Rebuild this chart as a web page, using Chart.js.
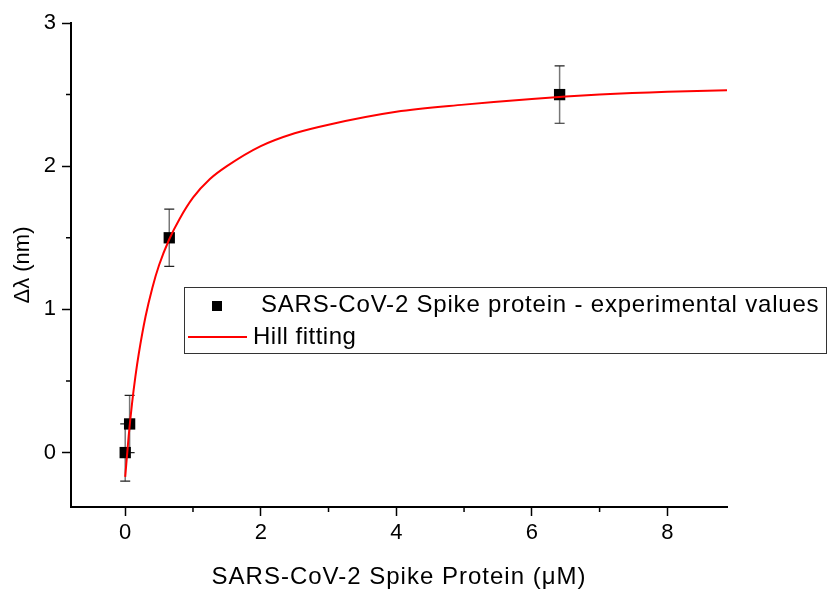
<!DOCTYPE html>
<html lang="en">
<head>
    <meta charset="UTF-8">
    <title>Hill fitting chart</title>
    <script src="https://cdn.jsdelivr.net/npm/chart.js"></script>
    <style>
        html, body { margin: 0; padding: 0; background: #fff; }
    </style>
</head>
<body>
    <canvas id="hillChart" width="834" height="595"></canvas>
<script>
    // experimental points (concentration in uM, shift in nm, error)
    const expX = [0, 0.065, 0.65, 6.41];
    const expY = [0, 0.2, 1.5, 2.5];
    const expErr = [0.2, 0.2, 0.2, 0.2];

    // Hill fitting curve
    const fitX = [0, 0.05, 0.1, 0.15, 0.2, 0.3, 0.4, 0.5, 0.65, 0.8, 1.0, 1.25, 1.5, 2, 2.5, 3, 4, 5, 6, 7, 8, 8.88];
    const fitY = [-0.17, 0.11, 0.34, 0.53, 0.69, 0.95, 1.15, 1.31, 1.49, 1.63, 1.78, 1.91, 2.0, 2.14, 2.23, 2.29, 2.38, 2.43, 2.47, 2.5, 2.52, 2.53];

    // axis ticks
    const xTicks = [0, 2, 4, 6, 8];
    const xMinor = [1, 3, 5, 7];
    const yTicks = [0, 1, 2, 3];
    const yMinor = [0.5, 1.5, 2.5];

    const legendLabels = ['SARS-CoV-2 Spike protein - experimental values', 'Hill fitting'];
    const xTitle = 'SARS-CoV-2 Spike Protein (μM)';
    const yTitle = 'Δλ (nm)';

    const fontFamily = '"Liberation Sans", Arial, sans-serif';

    // error bars under the points
    const errorBars = {
        id: 'errorBars',
        beforeDatasetsDraw(chart) {
            const ctx = chart.ctx;
            const xs = chart.scales.x, ys = chart.scales.y;
            ctx.save();
            expX.forEach((x, i) => {
                const px = xs.getPixelForValue(x);
                const top = ys.getPixelForValue(expY[i] + expErr[i]);
                const bot = ys.getPixelForValue(expY[i] - expErr[i]);
                ctx.strokeStyle = '#777';
                ctx.lineWidth = 1.5;
                ctx.beginPath();
                ctx.moveTo(px, top);
                ctx.lineTo(px, bot);
                ctx.stroke();
                ctx.strokeStyle = '#222';
                ctx.lineWidth = 1.2;
                ctx.beginPath();
                ctx.moveTo(px - 5, top);
                ctx.lineTo(px + 5, top);
                ctx.moveTo(px - 5, bot);
                ctx.lineTo(px + 5, bot);
                ctx.stroke();
            });
            ctx.restore();
        }
    };

    // short minor ticks, x title and boxed legend inside the plot
    const extras = {
        id: 'extras',
        afterDraw(chart) {
            const ctx = chart.ctx;
            const xs = chart.scales.x, ys = chart.scales.y;
            const area = chart.chartArea;
            ctx.save();
            ctx.strokeStyle = '#000';
            ctx.lineWidth = 1.5;
            ctx.beginPath();
            xMinor.forEach(v => {
                const px = xs.getPixelForValue(v);
                ctx.moveTo(px, area.bottom);
                ctx.lineTo(px, area.bottom + 5);
            });
            yMinor.forEach(v => {
                const py = ys.getPixelForValue(v);
                ctx.moveTo(area.left, py);
                ctx.lineTo(area.left - 5, py);
            });
            ctx.stroke();

            // x axis title (a little letter spacing like the original)
            ctx.fillStyle = '#000';
            ctx.letterSpacing = '1px';
            ctx.font = '24px ' + fontFamily;
            ctx.textBaseline = 'middle';
            ctx.textAlign = 'center';
            ctx.fillText(xTitle, (area.left + area.right) / 2, 577);

            // legend box
            ctx.textAlign = 'left';
            ctx.strokeStyle = '#333';
            ctx.lineWidth = 1;
            ctx.fillStyle = '#fff';
            ctx.fillRect(184.5, 287.5, 642, 66);
            ctx.strokeRect(184.5, 287.5, 642, 66);
            ctx.fillStyle = '#000';
            ctx.fillRect(212, 301, 10, 10);
            ctx.strokeStyle = '#ff0000';
            ctx.lineWidth = 2;
            ctx.beginPath();
            ctx.moveTo(188, 337);
            ctx.lineTo(247, 337);
            ctx.stroke();
            ctx.fillStyle = '#000';
            ctx.letterSpacing = '0.8px';
            ctx.fillText(legendLabels[0], 261, 305);
            ctx.letterSpacing = '0.5px';
            ctx.fillText(legendLabels[1], 253, 337);
            ctx.restore();
        }
    };

    const ctx = document.getElementById('hillChart').getContext('2d');
    new Chart(ctx, {
        type: 'scatter',
        data: {
            datasets: [
                {
                    label: legendLabels[1],
                    data: fitX.map((x, i) => ({ x: x, y: fitY[i] })),
                    showLine: true,
                    borderColor: '#ff0000',
                    borderWidth: 2,
                    pointRadius: 0,
                    cubicInterpolationMode: 'monotone'
                },
                {
                    label: legendLabels[0],
                    data: expX.map((x, i) => ({ x: x, y: expY[i] })),
                    pointStyle: 'rect',
                    pointRadius: 8,
                    backgroundColor: '#000',
                    borderColor: '#000',
                    borderWidth: 0
                }
            ]
        },
        options: {
            responsive: false,
            animation: false,
            layout: { padding: { top: 23, right: 107, left: 0, bottom: 0 } },
            plugins: {
                legend: { display: false },
                tooltip: { enabled: false }
            },
            scales: {
                x: {
                    type: 'linear',
                    min: -0.8,
                    max: 8.88,
                    afterBuildTicks: s => { s.ticks = xTicks.map(v => ({ value: v })); },
                    afterFit: s => { s.height = 88; },
                    border: { display: true, color: '#000', width: 2 },
                    grid: { drawOnChartArea: false, tickLength: 9, tickWidth: 1.5, tickColor: '#000' },
                    ticks: { color: '#000', font: { family: fontFamily, size: 22 }, padding: 4 },
                    title: { display: false }
                },
                y: {
                    min: -0.38,
                    max: 3,
                    afterBuildTicks: s => { s.ticks = yTicks.map(v => ({ value: v })); },
                    afterFit: s => { s.width = 71; },
                    border: { display: true, color: '#000', width: 2 },
                    grid: { drawOnChartArea: false, tickLength: 9, tickWidth: 1.5, tickColor: '#000' },
                    ticks: { color: '#000', font: { family: fontFamily, size: 22 }, padding: 6 },
                    title: {
                        display: true,
                        text: yTitle,
                        color: '#000',
                        font: { family: fontFamily, size: 22 },
                        padding: { top: 10, bottom: 0 }
                    }
                }
            }
        },
        plugins: [errorBars, extras]
    });
</script>
</body>
</html>
